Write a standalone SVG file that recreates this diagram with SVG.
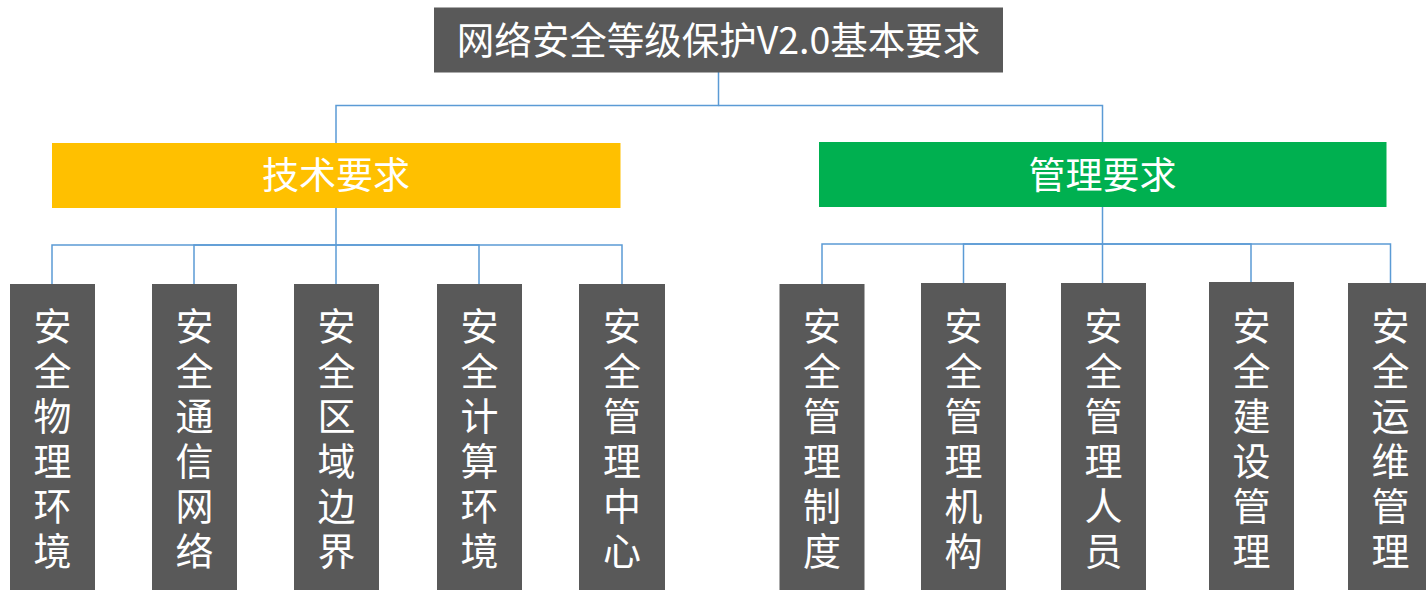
<svg xmlns="http://www.w3.org/2000/svg" width="1426" height="590" viewBox="0 0 1426 590">
<style>
text{font-family:"Noto Sans CJK SC","Noto Sans",sans-serif;fill:#fff;text-anchor:middle}
.dark{fill:#595959}
.top{font-size:37.5px}
.mid{font-size:37px}
.leaf{font-size:38px;writing-mode:vertical-rl;text-anchor:start;letter-spacing:7px}
.conn{fill:none;stroke:#5B9BD5;stroke-width:1.5}
</style>
<rect width="1426" height="590" fill="#fff"/>
<g id="connectors">
<path class="conn" d="M718.5,72 V105.5 H336 V143"/>
<path class="conn" d="M718.5,105.5 H1102.5 V142"/>
<path class="conn" d="M336,208 V245 H52 V284"/>
<path class="conn" d="M336,245 H194 V284"/>
<path class="conn" d="M336,245 V284"/>
<path class="conn" d="M336,245 H479 V284"/>
<path class="conn" d="M336,245 H622 V284"/>
<path class="conn" d="M1102.5,207 V244 H822 V284"/>
<path class="conn" d="M1102.5,244 H963.5 V283"/>
<path class="conn" d="M1102.5,244 V283"/>
<path class="conn" d="M1102.5,244 H1251 V282"/>
<path class="conn" d="M1102.5,244 H1390.5 V283"/>
</g>
<g id="root">
<rect class="dark" x="434" y="7.5" width="569" height="65"/>
<text class="top" x="718.5" y="54">网络安全等级保护V2.0基本要求</text>
</g>
<g id="tech">
<rect x="52" y="143" width="568.5" height="65" fill="#FFC000"/>
<text class="mid" x="336" y="189">技术要求</text>
</g>
<g id="mgmt">
<rect x="819" y="142" width="567.5" height="65" fill="#00B050"/>
<text class="mid" x="1102.5" y="189">管理要求</text>
</g>
<g id="t1"><rect class="dark" x="10" y="284" width="85" height="306"/><text class="leaf" x="52.5" y="306.5">安全物理环境</text></g>
<g id="t2"><rect class="dark" x="152" y="284" width="85" height="306"/><text class="leaf" x="194.5" y="306.5">安全通信网络</text></g>
<g id="t3"><rect class="dark" x="294" y="284" width="85" height="306"/><text class="leaf" x="336.5" y="306.5">安全区域边界</text></g>
<g id="t4"><rect class="dark" x="437" y="284" width="85" height="306"/><text class="leaf" x="479.5" y="306.5">安全计算环境</text></g>
<g id="t5"><rect class="dark" x="579" y="284" width="86" height="306"/><text class="leaf" x="622" y="306.5">安全管理中心</text></g>
<g id="m1"><rect class="dark" x="779.5" y="284" width="85" height="306"/><text class="leaf" x="822" y="306.5">安全管理制度</text></g>
<g id="m2"><rect class="dark" x="921" y="283" width="85" height="307"/><text class="leaf" x="963.5" y="306.5">安全管理机构</text></g>
<g id="m3"><rect class="dark" x="1061" y="283" width="85" height="307"/><text class="leaf" x="1103.5" y="306.5">安全管理人员</text></g>
<g id="m4"><rect class="dark" x="1209" y="282" width="85" height="308"/><text class="leaf" x="1251.5" y="306.5">安全建设管理</text></g>
<g id="m5"><rect class="dark" x="1348" y="283" width="85" height="307"/><text class="leaf" x="1390.5" y="306.5">安全运维管理</text></g>
</svg>
